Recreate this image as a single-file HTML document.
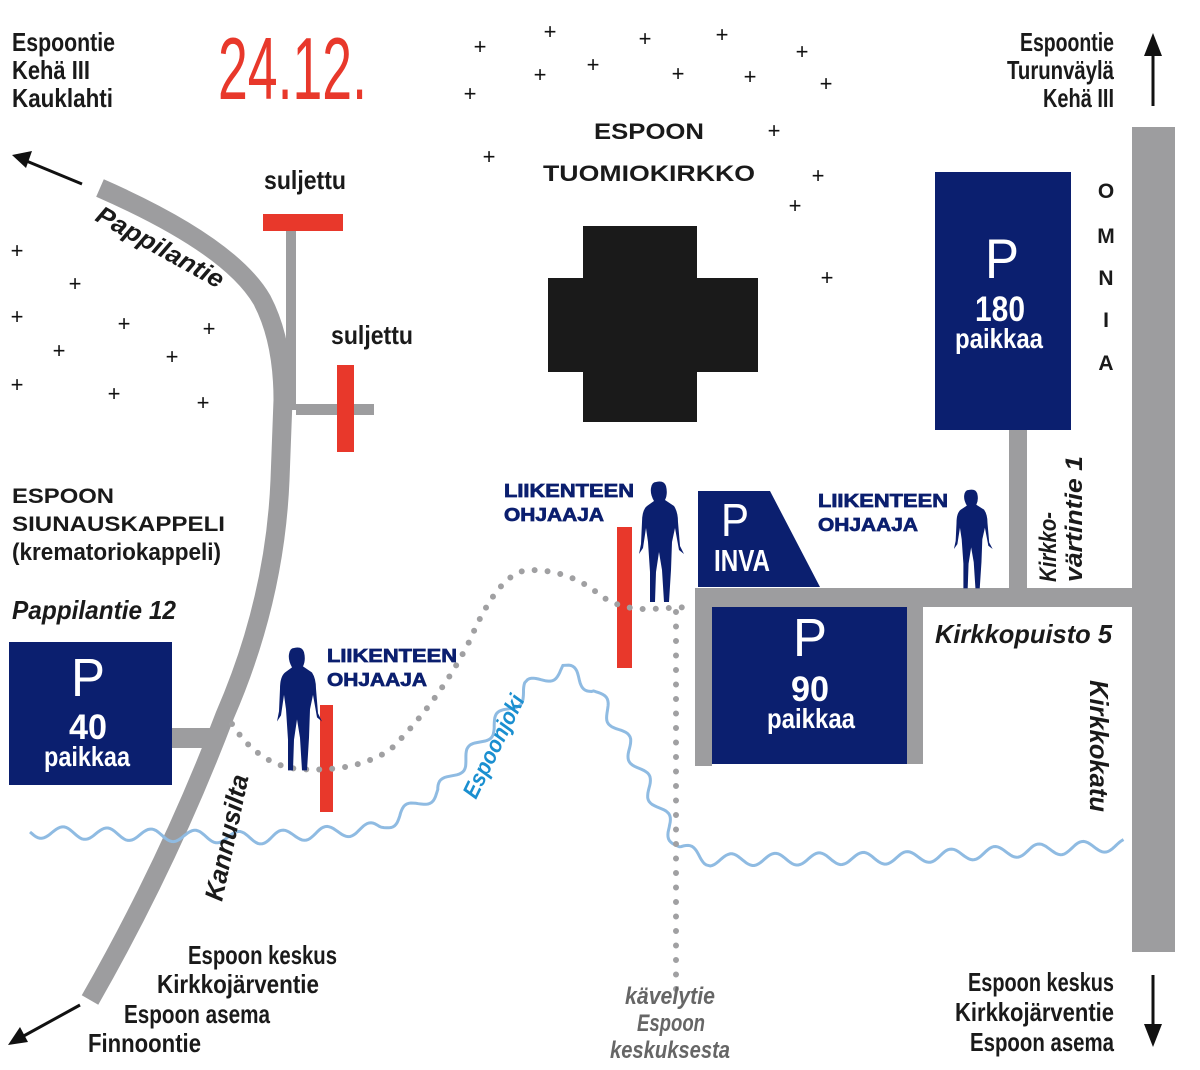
<!DOCTYPE html>
<html><head><meta charset="utf-8"><style>
html,body{margin:0;padding:0;background:#fff}
svg{display:block}
.c{font-family:"Liberation Sans",sans-serif;font-weight:bold}
.s{font-family:"Liberation Sans",sans-serif;font-weight:bold}
</style></head><body>
<svg id="m" width="1200" height="1070" viewBox="0 0 1200 1070" xmlns="http://www.w3.org/2000/svg">
<rect width="1200" height="1070" fill="#fff"/>
<g font-family="Liberation Sans,sans-serif" font-size="22" fill="#111" text-anchor="middle">
<text x="480" y="54">+</text><text x="550" y="39">+</text><text x="645" y="46">+</text><text x="722" y="42">+</text><text x="802" y="59">+</text>
<text x="540" y="82">+</text><text x="593" y="72">+</text><text x="678" y="81">+</text><text x="750" y="84">+</text><text x="826" y="91">+</text>
<text x="470" y="101">+</text><text x="489" y="164">+</text><text x="774" y="138">+</text><text x="818" y="183">+</text><text x="795" y="213">+</text><text x="827" y="285">+</text>
<text x="17" y="258">+</text><text x="75" y="291">+</text><text x="17" y="324">+</text><text x="124" y="331">+</text><text x="209" y="336">+</text>
<text x="59" y="358">+</text><text x="172" y="364">+</text><text x="17" y="392">+</text><text x="114" y="401">+</text><text x="203" y="410">+</text>
</g>
<path d="M100,188 Q230,245 262,300 Q283,340 283,400 L280,480 Q275,600 225,715 Q170,860 90,1000" fill="none" stroke="#9d9d9f" stroke-width="19"/>
<rect x="170" y="728" width="50" height="20" fill="#9d9d9f"/>
<rect x="286" y="220" width="10" height="190" fill="#9d9d9f"/>
<rect x="296" y="404" width="78" height="11" fill="#9d9d9f"/>
<rect x="1132" y="127" width="43" height="825" fill="#9d9d9f"/>
<rect x="695" y="588" width="440" height="19" fill="#9d9d9f"/>
<rect x="695" y="588" width="17" height="178" fill="#9d9d9f"/>
<rect x="906" y="606" width="17" height="158" fill="#9d9d9f"/>
<rect x="1009" y="430" width="18" height="160" fill="#9d9d9f"/>
<g fill="#e8382b">
<rect x="263" y="214" width="80" height="17"/>
<rect x="337" y="365" width="17" height="87"/>
<rect x="320" y="705" width="13" height="107"/>
<rect x="617" y="527" width="15" height="141"/>
</g>
<path id="river" d="" fill="none" stroke="#8fbbe2" stroke-width="3"/>
<path d="M232,724 Q255,760 290,768 Q350,775 390,750 Q440,700 470,640 Q500,570 530,570 Q570,570 600,595 Q620,610 650,609 L690,607" fill="none" stroke="#a0a0a2" stroke-width="6" stroke-linecap="round" stroke-dasharray="0 13"/>
<path d="M676,612 L676,992" fill="none" stroke="#a0a0a2" stroke-width="6" stroke-linecap="round" stroke-dasharray="0 14.5"/>
<rect x="583" y="226" width="114" height="196" fill="#1a1a1a"/>
<rect x="548" y="278" width="210" height="94" fill="#1a1a1a"/>
<g fill="#0b1f6f">
<rect x="935" y="172" width="136" height="258"/>
<rect x="712" y="607" width="195" height="157"/>
<rect x="9" y="642" width="163" height="143"/>
<polygon points="698,491 770,491 820,587 698,587"/>
</g>
<g fill="#fff" text-anchor="middle">
<text x="1002" y="278" font-family="Liberation Sans,sans-serif" font-size="56" textLength="34" lengthAdjust="spacingAndGlyphs">P</text>
<text x="1000" y="321" class="c" font-size="35" textLength="50" lengthAdjust="spacingAndGlyphs">180</text>
<text x="999" y="348" class="c" font-size="28" textLength="88" lengthAdjust="spacingAndGlyphs">paikkaa</text>
<text x="810" y="656" font-family="Liberation Sans,sans-serif" font-size="54" textLength="34" lengthAdjust="spacingAndGlyphs">P</text>
<text x="810" y="701" class="c" font-size="35" textLength="38" lengthAdjust="spacingAndGlyphs">90</text>
<text x="811" y="728" class="c" font-size="28" textLength="88" lengthAdjust="spacingAndGlyphs">paikkaa</text>
<text x="88" y="696" font-family="Liberation Sans,sans-serif" font-size="54" textLength="34" lengthAdjust="spacingAndGlyphs">P</text>
<text x="88" y="739" class="c" font-size="35" textLength="38" lengthAdjust="spacingAndGlyphs">40</text>
<text x="87" y="766" class="c" font-size="28" textLength="86" lengthAdjust="spacingAndGlyphs">paikkaa</text>
<text x="735" y="536" font-family="Liberation Sans,sans-serif" font-size="46" textLength="28" lengthAdjust="spacingAndGlyphs">P</text>
<text x="742" y="571" class="c" font-size="31" textLength="56" lengthAdjust="spacingAndGlyphs">INVA</text>
</g>
<defs><path id="p" d="M-4,0 Q4,-2 6,4 Q8,12 5,18 L14,24 Q18,30 18,40 L20,64 L24,72 L19,68 L15,46 L12,60 L11,88 L9,120 L4,120 L2,88 L-1,70 L-4,90 L-5,120 L-10,120 L-10,90 L-12,60 L-14,46 L-17,66 L-21,72 L-19,62 L-18,40 Q-18,28 -13,24 L-6,19 Q-10,12 -9,6 Q-8,0 -4,0 Z" fill="#0b1f6f"/></defs>
<use href="#p" transform="translate(298,648) scale(1,1.02)"/>
<use href="#p" transform="translate(660,482) scale(1,1)"/>
<use href="#p" transform="translate(972,490) scale(0.86,0.82)"/>
<g stroke="#111" stroke-width="3" fill="#111">
<line x1="82" y1="184" x2="24" y2="160"/><polygon points="12,155 32,151 26,168" stroke="none"/>
<line x1="80" y1="1005" x2="20" y2="1038"/><polygon points="8,1045 20,1027 28,1042" stroke="none"/>
<line x1="1153" y1="106" x2="1153" y2="48"/><polygon points="1153,33 1144,56 1162,56" stroke="none"/>
<line x1="1153" y1="975" x2="1153" y2="1030"/><polygon points="1153,1047 1144,1024 1162,1024" stroke="none"/>
</g>
<g class="c" fill="#1a1a1a" font-size="26">
<text x="12" y="51" textLength="103" lengthAdjust="spacingAndGlyphs">Espoontie</text><text x="12" y="79" textLength="78" lengthAdjust="spacingAndGlyphs">Kehä III</text><text x="12" y="107" textLength="101" lengthAdjust="spacingAndGlyphs">Kauklahti</text>
<text x="1020" y="51" textLength="94" lengthAdjust="spacingAndGlyphs">Espoontie</text><text x="1007" y="79" textLength="107" lengthAdjust="spacingAndGlyphs">Turunväylä</text><text x="1043" y="107" textLength="71" lengthAdjust="spacingAndGlyphs">Kehä III</text>
<text x="968" y="991" textLength="146" lengthAdjust="spacingAndGlyphs">Espoon keskus</text><text x="955" y="1021" textLength="159" lengthAdjust="spacingAndGlyphs">Kirkkojärventie</text><text x="970" y="1051" textLength="144" lengthAdjust="spacingAndGlyphs">Espoon asema</text>
<text x="188" y="964" textLength="149" lengthAdjust="spacingAndGlyphs">Espoon keskus</text><text x="157" y="993" textLength="162" lengthAdjust="spacingAndGlyphs">Kirkkojärventie</text><text x="124" y="1023" textLength="146" lengthAdjust="spacingAndGlyphs">Espoon asema</text><text x="88" y="1052" textLength="113" lengthAdjust="spacingAndGlyphs">Finnoontie</text>
<text x="264" y="189" textLength="82" lengthAdjust="spacingAndGlyphs">suljettu</text><text x="331" y="344" textLength="82" lengthAdjust="spacingAndGlyphs">suljettu</text>
<text x="12" y="619" font-style="italic" textLength="164" lengthAdjust="spacingAndGlyphs">Pappilantie 12</text>
<text x="935" y="643" font-style="italic" textLength="177" lengthAdjust="spacingAndGlyphs">Kirkkopuisto 5</text>
<text transform="translate(94,220) rotate(29)" font-style="italic" font-size="25" textLength="142" lengthAdjust="spacingAndGlyphs">Pappilantie</text>
<text transform="translate(222,902) rotate(-78)" font-style="italic" font-size="26" textLength="128" lengthAdjust="spacingAndGlyphs">Kannusilta</text>
<text transform="translate(1090,680) rotate(90)" font-style="italic" font-size="26" textLength="132" lengthAdjust="spacingAndGlyphs">Kirkkokatu</text>
<text transform="translate(1056,582) rotate(-90)" font-style="italic" font-size="24" textLength="70" lengthAdjust="spacingAndGlyphs">Kirkko-</text>
<text transform="translate(1082,582) rotate(-90)" font-style="italic" font-size="24" textLength="126" lengthAdjust="spacingAndGlyphs">värtintie 1</text>
<g fill="#666" font-style="italic" font-size="24"><text x="625" y="1004" textLength="90" lengthAdjust="spacingAndGlyphs">kävelytie</text><text x="637" y="1031" textLength="68" lengthAdjust="spacingAndGlyphs">Espoon</text><text x="610" y="1058" textLength="120" lengthAdjust="spacingAndGlyphs">keskuksesta</text></g>
<text transform="translate(476,800) rotate(-64)" fill="#1a8fd0" font-style="italic" font-size="23" textLength="112" lengthAdjust="spacingAndGlyphs">Espoonjoki</text>
</g>
<text x="218" y="99" font-family="Liberation Sans,sans-serif" fill="#e8382b" font-size="88" textLength="149" lengthAdjust="spacingAndGlyphs">24.12.</text>
<g class="s" fill="#1a1a1a" font-size="22">
<text x="594" y="139" textLength="110" lengthAdjust="spacingAndGlyphs">ESPOON</text><text x="543" y="181" textLength="212" lengthAdjust="spacingAndGlyphs">TUOMIOKIRKKO</text>
<text x="12" y="503" font-size="21" textLength="102" lengthAdjust="spacingAndGlyphs">ESPOON</text><text x="12" y="531" font-size="21" textLength="213" lengthAdjust="spacingAndGlyphs">SIUNAUSKAPPELI</text>
<text x="12" y="560" font-size="24" textLength="209" lengthAdjust="spacingAndGlyphs">(krematoriokappeli)</text>
<g text-anchor="middle" font-size="21"><text x="1106" y="198">O</text><text x="1106" y="243">M</text><text x="1106" y="285">N</text><text x="1106" y="327">I</text><text x="1106" y="370">A</text></g>
</g>
<g font-family="Liberation Sans,sans-serif" font-weight="900" fill="#0b1f6f" font-size="18" stroke="#0b1f6f" stroke-width="0.7">
<text x="504" y="497" textLength="130" lengthAdjust="spacingAndGlyphs">LIIKENTEEN</text><text x="504" y="521" textLength="100" lengthAdjust="spacingAndGlyphs">OHJAAJA</text>
<text x="818" y="507" textLength="130" lengthAdjust="spacingAndGlyphs">LIIKENTEEN</text><text x="818" y="531" textLength="100" lengthAdjust="spacingAndGlyphs">OHJAAJA</text>
<text x="327" y="662" textLength="130" lengthAdjust="spacingAndGlyphs">LIIKENTEEN</text><text x="327" y="686" textLength="100" lengthAdjust="spacingAndGlyphs">OHJAAJA</text>
</g>
</svg>
<script>
(function(){
var pts=[[30,832],[150,835],[260,838],[380,828],[440,790],[490,730],[530,685],[565,668],[595,690],[625,740],[655,800],[680,848],[710,860],[900,858],[1125,845]];
var segs=[],L=0;
for(var i=0;i<pts.length-1;i++){var a=pts[i],b=pts[i+1],l=Math.hypot(b[0]-a[0],b[1]-a[1]);segs.push([a,b,l,L]);L+=l;}
var d="";
for(var s=0;s<=L;s+=2){
 var k=0;while(k<segs.length-1&&s>segs[k][3]+segs[k][2])k++;
 var g=segs[k],t=(s-g[3])/g[2],a=g[0],b=g[1];
 var x=a[0]+(b[0]-a[0])*t,y=a[1]+(b[1]-a[1])*t;
 var nx=-(b[1]-a[1])/g[2],ny=(b[0]-a[0])/g[2];
 var o=6*Math.sin(s*2*Math.PI/44);
 d+=(s?"L":"M")+(x+nx*o).toFixed(1)+","+(y+ny*o).toFixed(1);
}
document.getElementById("river").setAttribute("d",d);
})();
</script>
</body></html>
